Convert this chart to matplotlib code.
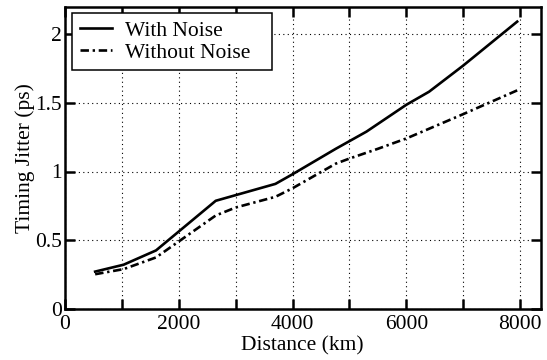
import matplotlib
matplotlib.use('Agg')
import matplotlib.pyplot as plt
import numpy as np

dist_noise = [530, 1030, 1600, 2650, 3700, 4000, 4760, 5300, 6000, 6400, 7000, 7950]
jit_noise = [0.272, 0.322, 0.426, 0.787, 0.91, 0.98, 1.165, 1.29, 1.485, 1.58, 1.77, 2.09]

dist_clean = [530, 1030, 1600, 2650, 3000, 3700, 4000, 4760, 5000, 5500, 6000, 7000, 7950]
jit_clean = [0.253, 0.29, 0.375, 0.68, 0.738, 0.816, 0.878, 1.057, 1.094, 1.165, 1.24, 1.417, 1.59]

xticks = [0, 2000, 4000, 6000, 8000]
yticks = [0, 0.5, 1, 1.5, 2]

plt.rcParams['font.family'] = ['Liberation Serif', 'DejaVu Serif']
fs = 15.5

fig = plt.figure(figsize=(5.47, 3.6), dpi=100)
ax = fig.add_axes([65/547, 1-309/360, (540.5-65)/547, (309-6.5)/360])

ax.plot(dist_noise, jit_noise, color='black', lw=1.9, label='With Noise')
ax.plot(dist_clean, jit_clean, color='black', lw=1.9, dashes=(3.2, 1.4, 0.9, 1.4),
        label='Without Noise')

ax.set_xlim(0, 8360)
ax.set_ylim(0, 2.2)
ax.set_xticks(np.arange(0, 9000, 1000))
ax.set_xticklabels([str(t) if t in xticks else '' for t in range(0, 9000, 1000)])
ax.set_yticks(yticks)
ax.set_yticklabels(['0', '0.5', '1', '1.5', '2'])
ax.tick_params(direction='in', length=7, width=1.8, top=True, right=True,
               labelsize=fs, pad=2)
ax.tick_params(axis='x', pad=4)
ax.grid(True, color='black', linestyle=(0, (1, 3)), linewidth=0.8)
for s in ax.spines.values():
    s.set_linewidth(1.8)

ax.set_xlabel('Distance (km)', fontsize=fs, labelpad=2)
ax.set_ylabel('Timing Jitter (ps)', fontsize=fs, labelpad=0)

# legend box spans roughly 72..272 px across, top at 13 px
lx0 = (72 - 65) / 475.5
lw_ = 200 / 475.5
ltop = (309 - 13) / 302.5
leg = ax.legend(loc='upper left', bbox_to_anchor=(lx0, ltop, lw_, 0), mode='expand',
                fontsize=fs, frameon=True, fancybox=False,
                handlelength=1.5, borderpad=0.35, labelspacing=0.1,
                borderaxespad=0, handletextpad=0.6)
leg.get_frame().set_edgecolor('black')
leg.get_frame().set_linewidth(1.1)
leg.get_frame().set_alpha(1)

fig.savefig('out.png', dpi=100)
